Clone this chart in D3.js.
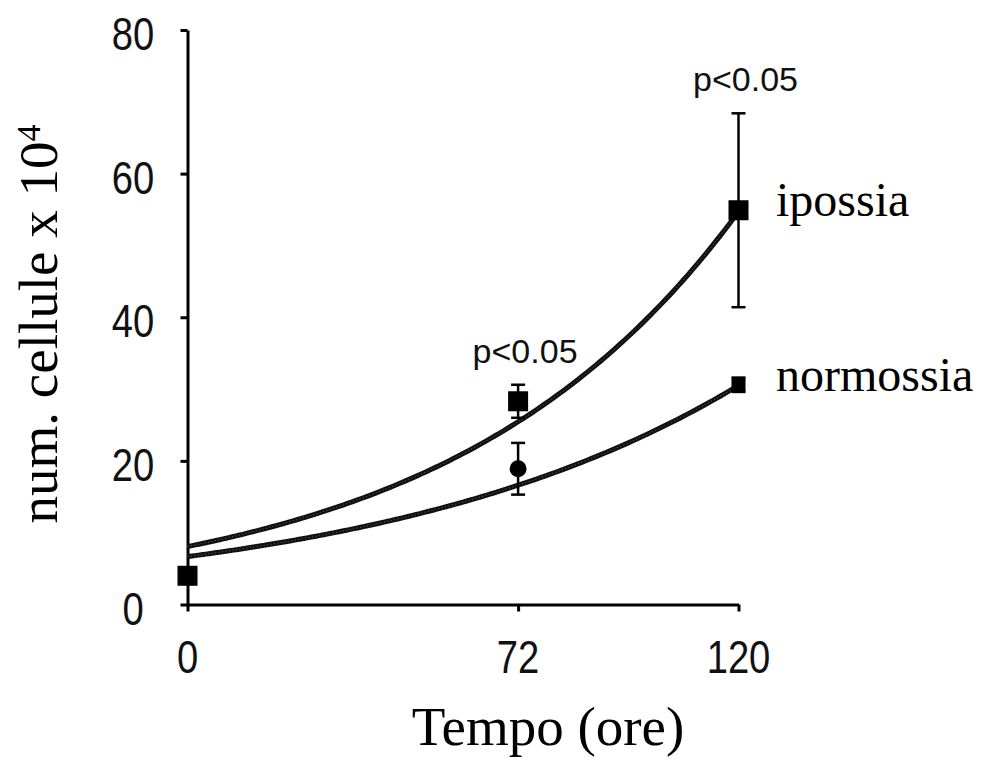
<!DOCTYPE html>
<html>
<head>
<meta charset="utf-8">
<script src="https://cdn.jsdelivr.net/npm/d3@7"></script>
<style>
  html, body { margin: 0; padding: 0; background: #fff; }
  svg { display: block; }
</style>
</head>
<body>
<svg id="chart" width="987" height="763"></svg>
<script>
// Cell counts (x 10^4) over time, hypoxia vs normoxia
const hours = [0, 72, 120];
const hourLabels = ["0", "72", "120"];
const yTicks = [0, 20, 40, 60, 80];

const ipossia = [4.0, 28.3, 54.9];
const ipossiaErr = [0, 2.3, 13.5];
const normossia = [4.0, 18.9, 30.6];
const normossiaErr = [0, 3.6, 1.0];

// exponential trend lines: y = a * exp(b * t)
const trendA = [8.07, 6.67];   // ipossia, normossia
const trendB = [0.01595, 0.01267];

const significance = ["", "p<0.05", "p<0.05"];
const seriesNames = ["ipossia", "normossia"];

const svg = d3.select("#chart");

const x = d3.scaleLinear().domain([0, 120]).range([187.5, 738.5]);
const y = d3.scaleLinear().domain([0, 80]).range([604.5, 30]);

const sans = "'Liberation Sans', Arial, sans-serif";
const serif = "'Liberation Serif', 'Times New Roman', serif";

// axes
const yAxis = d3.axisLeft(y).tickValues(yTicks).tickSize(7).tickSizeOuter(0).tickFormat("");
const xAxis = d3.axisBottom(x).tickValues(hours).tickSize(7).tickSizeOuter(0).tickFormat("");

const gy = svg.append("g").attr("transform", `translate(${x(0)},0)`).call(yAxis);
const gx = svg.append("g").attr("transform", `translate(0,${y(0)})`).call(xAxis);
[gy, gx].forEach(g => {
  g.select(".domain").attr("stroke", "#000").attr("stroke-width", 3);
  g.selectAll(".tick line").attr("stroke", "#000").attr("stroke-width", 3);
});

// tick labels (condensed sans)
svg.append("g").selectAll("text").data(yTicks).join("text")
  .attr("transform", d => `translate(133,${y(d) + 20}) scale(0.83,1)`)
  .attr("text-anchor", "middle")
  .attr("font-family", sans).attr("font-size", 46).attr("fill", "#111")
  .text(d => d);

svg.append("g").selectAll("text").data(hours).join("text")
  .attr("transform", d => `translate(${x(d)},673) scale(0.83,1)`)
  .attr("text-anchor", "middle")
  .attr("font-family", sans).attr("font-size", 46).attr("fill", "#111")
  .text((d, i) => hourLabels[i]);

// axis titles
svg.append("text")
  .attr("x", 548).attr("y", 745)
  .attr("text-anchor", "middle")
  .attr("font-family", serif).attr("font-size", 55).attr("fill", "#000")
  .text("Tempo (ore)");

const yt = svg.append("text")
  .attr("transform", "translate(57,324) rotate(-90)")
  .attr("text-anchor", "middle")
  .attr("font-family", serif).attr("font-size", 55).attr("fill", "#000");
yt.append("tspan").text("num. cellule x 10");
yt.append("tspan").attr("font-size", 34).attr("dy", -17).text("4");

// trend curves (dark stroke with a light speckle on top)
const tGrid = d3.range(0, 120.01, 1);
const line = d3.line().x(d => x(d[0])).y(d => y(d[1])).curve(d3.curveBasis);
trendA.forEach((a, k) => {
  const pts = tGrid.map(t => [t, a * Math.exp(trendB[k] * t)]);
  svg.append("path").attr("d", line(pts))
    .attr("fill", "none").attr("stroke", "#111").attr("stroke-width", 5);
  svg.append("path").attr("d", line(pts))
    .attr("fill", "none").attr("stroke", "#999").attr("stroke-width", 1)
    .attr("stroke-dasharray", "1 2.5").attr("opacity", 0.6);
});

// error bars
function errorBars(vals, errs) {
  const g = svg.append("g").attr("stroke", "#000").attr("stroke-width", 2.5);
  vals.forEach((v, i) => {
    if (!errs[i]) return;
    const cx = x(hours[i]);
    g.append("line").attr("x1", cx).attr("x2", cx).attr("y1", y(v - errs[i])).attr("y2", y(v + errs[i]));
    [v - errs[i], v + errs[i]].forEach(e => {
      g.append("line").attr("x1", cx - 7).attr("x2", cx + 7).attr("y1", y(e)).attr("y2", y(e));
    });
  });
}
errorBars(normossia, normossiaErr);
errorBars(ipossia, ipossiaErr);

// normossia markers: small squares, round marker at 72 h
const gn = svg.append("g").attr("fill", "#000");
normossia.forEach((v, i) => {
  const cx = x(hours[i]), cy = y(v);
  if (i === 1) gn.append("circle").attr("cx", cx).attr("cy", cy).attr("r", 8.5);
  else gn.append("rect").attr("x", cx - 7).attr("y", cy - 7).attr("width", 14).attr("height", 14);
});

// ipossia markers: large squares
svg.append("g").attr("fill", "#000").selectAll("rect").data(ipossia).join("rect")
  .attr("x", (d, i) => x(hours[i]) - 10).attr("y", d => y(d) - 10)
  .attr("width", 20).attr("height", 20);

// significance labels above the upper error bar
const sig = significance.map((label, i) => ({ label, i })).filter(d => d.label !== "");
svg.append("g").selectAll("text").data(sig).join("text")
  .attr("x", d => x(hours[d.i]) + 7)
  .attr("y", d => y(ipossia[d.i] + ipossiaErr[d.i]) - 22)
  .attr("text-anchor", "middle")
  .attr("font-family", sans).attr("font-size", 34).attr("fill", "#111")
  .text(d => d.label);

// series labels at the end of each curve
[ipossia, normossia].forEach((vals, k) => {
  svg.append("text")
    .attr("x", 776).attr("y", y(vals[vals.length - 1]) + 6)
    .attr("font-family", serif).attr("font-size", 48).attr("fill", "#000")
    .text(seriesNames[k]);
});
</script>
</body>
</html>
